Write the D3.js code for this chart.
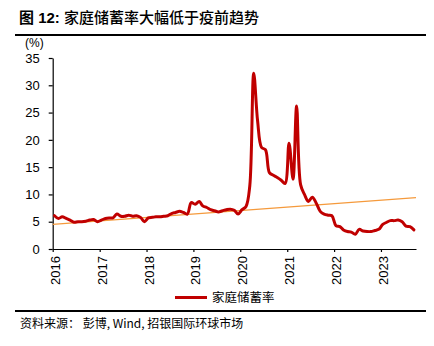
<!DOCTYPE html>
<html>
<head>
<meta charset="utf-8">
<script src="https://cdn.jsdelivr.net/npm/d3@7"></script>
<style>
  html, body { margin: 0; padding: 0; background: #fff; }
  svg { display: block; }
  text { font-family: "Liberation Sans", Arial, "Noto Sans CJK SC", sans-serif; fill: #000; }
  .cjk { font-family: "Noto Sans CJK SC", "Liberation Sans", sans-serif; }
</style>
</head>
<body>
<svg id="chart" width="434" height="346"></svg>
<script>
// ---- data ----
const titleText = "家庭储蓄率大幅低于疫前趋势";
const figLabel = "图 12: ";
const unitLabel = "(%)";
const seriesName = "家庭储蓄率";
const sourceText = "资料来源： 彭博, Wind, 招银国际环球市场";
const startMonth = "2016-01";
const yTicks = [0, 5, 10, 15, 20, 25, 30, 35];
const xTickYears = [2016, 2017, 2018, 2019, 2020, 2021, 2022, 2023];
// monthly household saving rate (%), 2016-01 .. 2023-09
const rate2016 = [6.1, 5.6, 5.9, 5.6, 5.3, 4.9, 5.0, 5.0, 5.1, 5.3, 5.4, 5.0];
const rate2017 = [5.3, 5.6, 5.7, 5.7, 6.4, 6.0, 6.0, 6.2, 6.0, 6.1, 5.8, 5.0];
const rate2018 = [5.7, 5.8, 5.9, 5.9, 6.0, 6.1, 6.5, 6.7, 6.9, 6.7, 6.4, 8.5];
const rate2019 = [8.2, 8.7, 7.9, 7.6, 7.2, 7.0, 6.8, 7.0, 7.2, 7.3, 7.1, 6.4];
const rate2020 = [7.2, 7.8, 11.5, 32.2, 23.5, 18.6, 18.2, 14.0, 13.5, 13.1, 12.6, 12.0];
const rate2021 = [19.4, 12.8, 26.2, 11.8, 10.0, 8.7, 9.5, 8.4, 6.9, 6.4, 6.2, 6.1];
const rate2022 = [4.3, 4.1, 3.5, 3.2, 3.1, 2.7, 3.6, 3.3, 3.2, 3.2, 3.4, 3.6];
const rate2023 = [4.5, 4.9, 5.2, 5.2, 5.3, 5.0, 4.2, 4.1, 3.5];
// pre-pandemic trend line endpoints
const trendDates = ["2016-01-01", "2023-10-01"];
const trendValues = [4.5, 9.4];

// ---- build ----
const allRates = [].concat(rate2016, rate2017, rate2018, rate2019, rate2020, rate2021, rate2022, rate2023);
const [sy, sm] = startMonth.split("-").map(Number);
const series = allRates.map((v, i) => ({ date: new Date(sy, sm - 1 + i, 15), value: v }));
const trend = trendDates.map((d, i) => ({ date: new Date(d + "T00:00:00"), value: trendValues[i] }));

const svg = d3.select("#chart");
const x = d3.scaleTime().domain([new Date(2016, 0, 1), new Date(2023, 9, 1)]).range([52.7, 416]);
const y = d3.scaleLinear().domain([0, 35]).range([249, 58]);

// title
const title = svg.append("text").attr("x", 19).attr("y", 23).style("font-size", "15px");
title.append("tspan").attr("class", "cjk").style("font-weight", "bold").text("图");
title.append("tspan").style("font-weight", "bold").style("font-family", "Liberation Sans").text(figLabel.slice(1));
title.append("tspan").attr("class", "cjk").style("font-weight", "500").text(titleText);

// rules
svg.append("line").attr("x1", 15).attr("x2", 426).attr("y1", 35).attr("y2", 35).attr("stroke", "#000").attr("stroke-width", 2);
svg.append("line").attr("x1", 15).attr("x2", 426).attr("y1", 311).attr("y2", 311).attr("stroke", "#000").attr("stroke-width", 2);

// unit
svg.append("text").attr("x", 25).attr("y", 47).style("font-size", "12px").text(unitLabel);

// y axis
const yAxis = svg.append("g").attr("transform", "translate(52.7,0)")
  .call(d3.axisLeft(y).tickValues(yTicks).tickSize(4).tickSizeOuter(0).tickPadding(9));
yAxis.selectAll("text").style("font-size", "13px").style("font-family", "Liberation Sans").attr("fill", "#000");
yAxis.selectAll("line, path").attr("stroke", "#000").attr("stroke-width", 1.2);

// x axis
const xAxis = svg.append("g").attr("transform", "translate(0,249)")
  .call(d3.axisBottom(x).tickValues(xTickYears.map(yr => new Date(yr, 0, 1))).tickFormat(d3.timeFormat("%Y")).tickSize(3).tickSizeOuter(0));
xAxis.selectAll("line, path").attr("stroke", "#000").attr("stroke-width", 1.2);
xAxis.selectAll("text")
  .style("font-size", "13px").style("font-family", "Liberation Sans").attr("fill", "#000")
  .style("text-anchor", "end")
  .attr("transform", "rotate(-90)")
  .attr("x", -7).attr("y", 0).attr("dy", "0.5em");

// trend line
const line = d3.line().x(d => x(d.date)).y(d => y(d.value));
svg.append("path").datum(trend).attr("d", line)
  .attr("fill", "none").attr("stroke", "#f59a3c").attr("stroke-width", 1.2);

// saving rate line
const smooth = d3.line().x(d => x(d.date)).y(d => y(d.value)).curve(d3.curveCatmullRom.alpha(0.5));
svg.append("path").datum(series).attr("d", smooth)
  .attr("fill", "none").attr("stroke", "#c00000").attr("stroke-width", 3)
  .attr("stroke-linejoin", "round").attr("stroke-linecap", "round");

// legend
svg.append("line").attr("x1", 175).attr("x2", 207).attr("y1", 297.5).attr("y2", 297.5)
  .attr("stroke", "#c00000").attr("stroke-width", 3);
svg.append("text").attr("class", "cjk").attr("x", 212).attr("y", 302).style("font-size", "12.5px").text(seriesName);

// source
svg.append("text").attr("class", "cjk").attr("x", 20).attr("y", 328).style("font-size", "12px").text(sourceText);
</script>
</body>
</html>
